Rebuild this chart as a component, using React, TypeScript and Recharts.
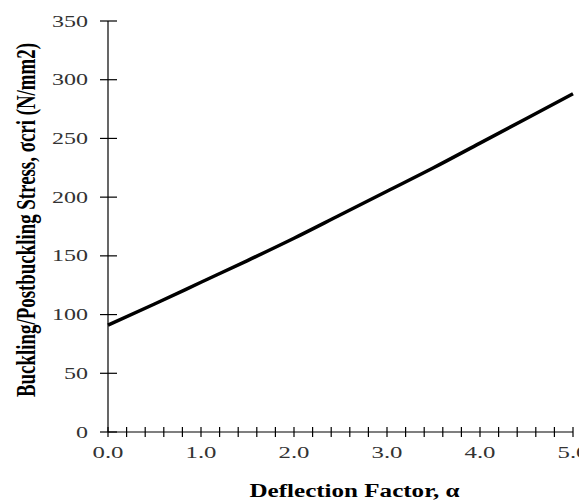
import React from "react";
import { LineChart, Line, XAxis, YAxis } from "recharts";

const alphaValues = [0, 0.5, 1, 1.5, 2, 2.5, 3, 3.5, 4, 4.5, 5];
const stressValues = [91, 109, 127.5, 146, 165, 185, 205, 225, 246, 267, 288];
const xTicks = [0, 0.2, 0.4, 0.6, 0.8, 1, 1.2, 1.4, 1.6, 1.8, 2, 2.2, 2.4, 2.6, 2.8, 3, 3.2, 3.4, 3.6, 3.8, 4, 4.2, 4.4, 4.6, 4.8, 5];
const yTicks = [0, 50, 100, 150, 200, 250, 300, 350];
const xTitle = "Deflection Factor, \u03b1";
const yTitle = "Buckling/Postbuckling Stress, \u03c3cri (N/mm2)";

const data = alphaValues.map((a, i) => ({ alpha: a, stress: stressValues[i] }));

const FONT = "'Liberation Serif', 'Times New Roman', serif";

const XTick = (props: any) => {
  const { x, y, payload } = props;
  const v = payload.value as number;
  const major = Math.abs(v - Math.round(v)) < 1e-6;
  return (
    <g>
      <line x1={x} x2={x} y1={y - 5} y2={y + 5} stroke="#000" strokeWidth={1.2} />
      {major && (
        <g transform={`translate(${x},${y + 26}) scale(1.55,1)`}>
          <text x={0} y={0} textAnchor="middle" fontFamily={FONT} fontSize={16} fill="#333">
            {v.toFixed(1)}
          </text>
        </g>
      )}
    </g>
  );
};

const YTick = (props: any) => {
  const { x, y, payload } = props;
  return (
    <g>
      <line x1={x - 8} x2={x + 9} y1={y} y2={y} stroke="#000" strokeWidth={1.2} />
      <g transform={`translate(${x - 20},${y + 5.5}) scale(1.5,1)`}>
        <text x={0} y={0} textAnchor="end" fontFamily={FONT} fontSize={16} fill="#333">
          {payload.value}
        </text>
      </g>
    </g>
  );
};

export default function App() {
  return (
    <div style={{ position: "relative", width: 579, height: 494 }}>
      <LineChart
        width={579}
        height={494}
        data={data}
        margin={{ top: 13, right: 14, bottom: 10, left: 0 }}
      >
        <XAxis
          dataKey="alpha"
          type="number"
          domain={[0, 5]}
          ticks={xTicks}
          interval={0}
          tickSize={0}
          tickMargin={0}
          tickLine={false}
          tick={<XTick />}
          axisLine={{ stroke: "#000", strokeWidth: 1.2 }}
          height={60}
          label={{
            content: (p: any) => {
              const vb = p.viewBox;
              const cx = vb.x + vb.width / 2 + 14;
              return (
                <text
                  x={cx}
                  y={489}
                  textAnchor="middle"
                  fontFamily={FONT}
                  fontWeight="bold"
                  fontSize={18}
                  fill="#000"
                  textLength={210}
                  lengthAdjust="spacingAndGlyphs"
                >
                  {xTitle}
                </text>
              );
            },
          }}
        />
        <YAxis
          type="number"
          domain={[0, 350]}
          ticks={yTicks}
          interval={0}
          width={100}
          tickSize={0}
          tickMargin={0}
          tickLine={false}
          tick={<YTick />}
          axisLine={{ stroke: "#000", strokeWidth: 1.2 }}
          label={{
            content: () => (
              <g transform={`translate(18,212) scale(1.5,1) rotate(-90)`}>
                <text
                  x={0}
                  y={0}
                  textAnchor="middle"
                  dominantBaseline="central"
                  fontFamily={FONT}
                  fontWeight="bold"
                  fontSize={18}
                  fill="#000"
                  textLength={354}
                  lengthAdjust="spacingAndGlyphs"
                >
                  {yTitle}
                </text>
              </g>
            ),
          }}
        />
        <Line
          type="monotone"
          dataKey="stress"
          stroke="#000"
          strokeWidth={3.5}
          dot={false}
          isAnimationActive={false}
        />
      </LineChart>
    </div>
  );
}
